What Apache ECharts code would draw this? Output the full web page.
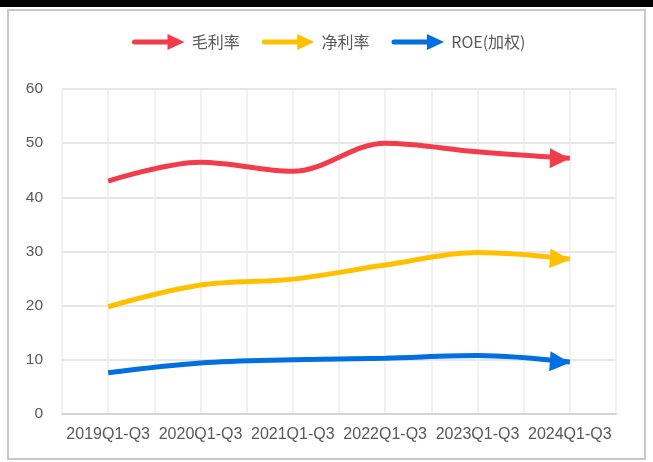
<!DOCTYPE html>
<html>
<head>
<meta charset="utf-8">
<script src="https://cdn.jsdelivr.net/npm/echarts@6/dist/echarts.min.js"></script>
<style>
  html, body { margin: 0; padding: 0; background: #fff; }
  #chart { width: 653px; height: 462px; }
</style>
</head>
<body>
<div id="chart"></div>
<script>
  // 数据
  var categories = ['2019Q1-Q3', '2020Q1-Q3', '2021Q1-Q3', '2022Q1-Q3', '2023Q1-Q3', '2024Q1-Q3'];
  var grossMargin = [43.0, 46.5, 44.8, 50.0, 48.4, 47.2];
  var netMargin = [19.8, 23.8, 24.9, 27.5, 29.8, 28.6];
  var roe = [7.6, 9.4, 10.0, 10.3, 10.8, 9.6];
  var yTicks = [0, 10, 20, 30, 40, 50, 60];

  var names = ['毛利率', '净利率', 'ROE(加权)'];
  var colors = ['#F23C4B', '#FFC000', '#0070E0'];
  var arrowIcon = 'path://M3,5.5 L36,5.5 L36,0 L53,8 L36,16 L36,10.5 L3,10.5 A2.5,2.5 0 0 1 3,5.5 Z';

  // 类别放在半格中心：x = 2*i + 1，最后一个点画成箭头
  function toPoints(values, rot) {
    return values.map(function (v, i) {
      if (i === values.length - 1) {
        return {
          value: [2 * i + 1, v],
          symbol: 'triangle',
          symbolSize: [20, 20],
          symbolRotate: rot,
          symbolOffset: [-10, 0]
        };
      }
      return [2 * i + 1, v];
    });
  }

  var myChart = echarts.init(document.getElementById('chart'));

  var option = {
    animation: false,
    color: colors,
    graphic: [
      {
        type: 'rect',
        shape: { x: 0, y: 0, width: 653, height: 7 },
        style: { fill: '#000' }
      },
      {
        type: 'rect',
        shape: { x: 8, y: 10, width: 637, height: 449 },
        style: { fill: 'none', stroke: '#c8c8c8', lineWidth: 2 }
      }
    ],
    legend: {
      top: 29,
      left: 127,
      itemWidth: 53,
      itemHeight: 16,
      itemGap: 22,
      data: names.map(function (n) { return { name: n, icon: arrowIcon }; }),
      textStyle: {
        color: '#595959',
        fontSize: 16,
        fontFamily: 'Noto Sans CJK SC',
        padding: [0, 0, 0, 2]
      }
    },
    grid: {
      left: 62,
      right: 37,
      top: 89,
      bottom: 48,
      containLabel: false
    },
    xAxis: {
      type: 'value',
      min: 0,
      max: 12,
      interval: 1,
      axisLine: { show: true, lineStyle: { color: '#d6d6d6', width: 2 } },
      axisTick: { show: false },
      splitLine: { show: true, lineStyle: { color: '#ececec', width: 1.5 } },
      axisLabel: {
        margin: 13,
        color: '#595959',
        fontSize: 16,
        fontFamily: 'Liberation Sans',
        formatter: function (v) {
          return v % 2 === 1 ? categories[(v - 1) / 2] : '';
        }
      }
    },
    yAxis: {
      type: 'value',
      min: yTicks[0],
      max: yTicks[yTicks.length - 1],
      interval: 10,
      axisLine: { show: false },
      axisTick: { show: false },
      splitLine: { show: true, lineStyle: { color: '#dedede', width: 1.5 } },
      axisLabel: {
        margin: 19,
        color: '#595959',
        fontSize: 15.5,
        fontFamily: 'Liberation Sans'
      }
    },
    series: [
      {
        name: names[0],
        type: 'line',
        smooth: 0.35,
        symbol: 'none',
        lineStyle: { width: 5, color: colors[0] },
        itemStyle: { color: colors[0] },
        data: toPoints(grossMargin, -91)
      },
      {
        name: names[1],
        type: 'line',
        smooth: 0.35,
        symbol: 'none',
        lineStyle: { width: 5, color: colors[1] },
        itemStyle: { color: colors[1] },
        data: toPoints(netMargin, -94)
      },
      {
        name: names[2],
        type: 'line',
        smooth: 0.35,
        symbol: 'none',
        lineStyle: { width: 5, color: colors[2] },
        itemStyle: { color: colors[2] },
        data: toPoints(roe, -94)
      }
    ]
  };

  myChart.setOption(option);
</script>
</body>
</html>
